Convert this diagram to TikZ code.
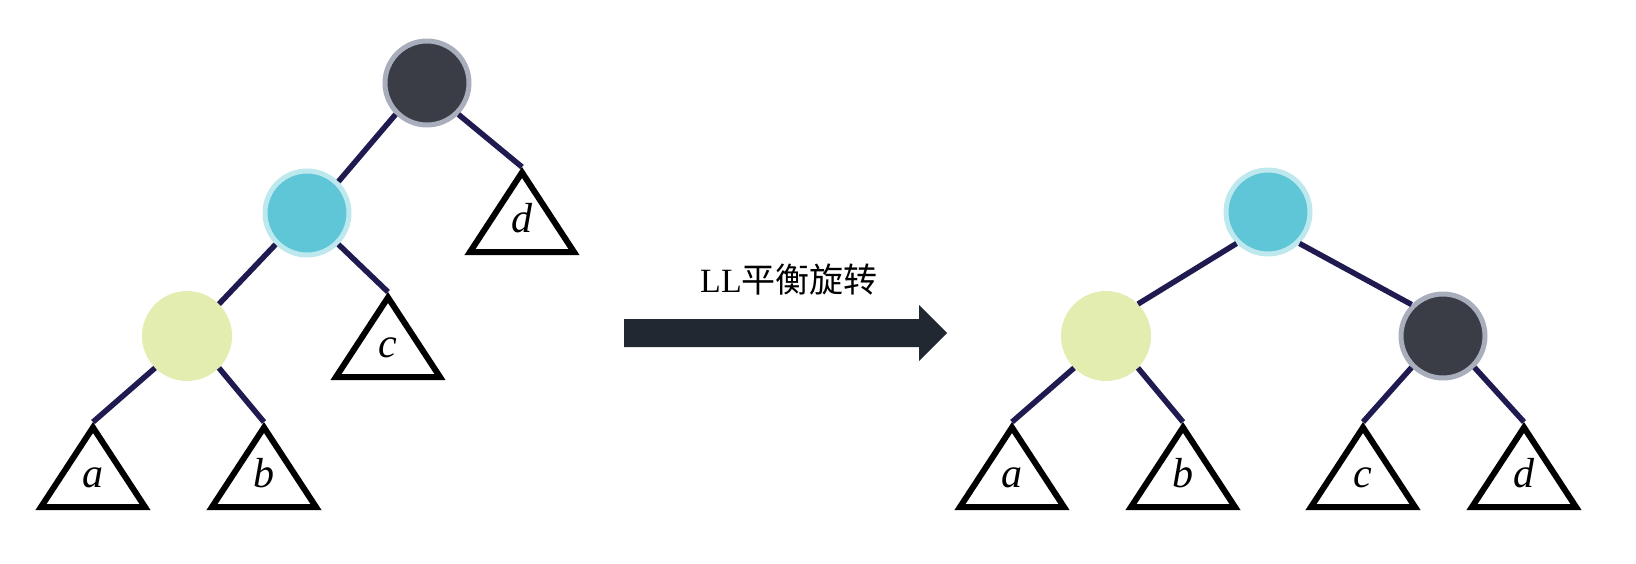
\documentclass[tikz,border=0pt]{standalone}
\usepackage{fontspec}
\newfontfamily\lib{Liberation Serif}
\newfontfamily\cjk{Noto Sans CJK SC}
\definecolor{darkfill}{HTML}{3A3D46}
\definecolor{darkring}{HTML}{A8AEBB}
\definecolor{cyanfill}{HTML}{5EC6D6}
\definecolor{cyanring}{HTML}{BDE8EE}
\definecolor{greenfill}{HTML}{E3EDB0}
\definecolor{edgec}{HTML}{1F1A4F}
\definecolor{arrowc}{HTML}{222831}
\tikzset{
  darkn/.style={circle, fill=darkfill, draw=darkring, line width=5pt, minimum size=84pt, inner sep=0pt},
  cyann/.style={circle, fill=cyanfill, draw=cyanring, line width=5pt, minimum size=84pt, inner sep=0pt},
  greenn/.style={circle, fill=greenfill, minimum size=90pt, inner sep=0pt},
  edge/.style={draw=edgec, line width=5.5pt},
  tri/.style={draw=black, line width=6pt, fill=white, line join=miter},
  lab/.style={anchor=base, inner sep=0pt, font=\fontsize{42}{42}\selectfont\lib\itshape},
  bigarrow/.style={fill=arrowc},
  title/.style={font=\fontsize{34}{34}\selectfont, inner sep=0pt}
}
\newcommand\subtree[4]{%
  \draw[tri] (#2,#3+5.5) -- (#2-52,#3+85) -- (#2+52,#3+85) -- cycle;
  \coordinate (#1) at (#2,#3);
  \node[lab] (#1l) at (#2,#3+65) {#4};
}
\begin{document}
\begin{tikzpicture}[x=1pt,y=-1pt]
\useasboundingbox (0,0) rectangle (1636,563);
% left tree
\node[darkn] (Ld) at (427,83) {};
\node[cyann] (Lc) at (307,213) {};
\node[greenn] (Lg) at (187,336) {};
\subtree{La}{93}{422}{a}
\subtree{Lb}{264}{422}{b}
\subtree{Lcc}{388}{292}{c}
\subtree{Ldd}{522}{167}{d}
\draw[edge] (Ld.south west) -- (Lc.north east);
\draw[edge] (Ld.south east) -- (Ldd);
\draw[edge] (Lc.south west) -- (Lg.north east);
\draw[edge] (Lc.south east) -- (Lcc);
\draw[edge] (Lg.south west) -- (La);
\draw[edge] (Lg.south east) -- (Lb);
% arrow
\fill[bigarrow] (624,319) -- (919,319) -- (919,305) -- (947,333) -- (919,361) -- (919,347) -- (624,347) -- cycle;
\node[title] (ttl) at (789,280) {\lib LL\cjk 平衡旋转};
% right tree
\node[cyann] (Rc) at (1268,212) {};
\node[greenn] (Rg) at (1106,336) {};
\node[darkn] (Rd) at (1443,336) {};
\subtree{Ra}{1012}{422}{a}
\subtree{Rb}{1183}{422}{b}
\subtree{Rcc}{1363}{422}{c}
\subtree{Rdd}{1524}{422}{d}
\draw[edge] (Rc.south west) -- (Rg.north east);
\draw[edge] (Rc.south east) -- (Rd.north west);
\draw[edge] (Rg.south west) -- (Ra);
\draw[edge] (Rg.south east) -- (Rb);
\draw[edge] (Rd.south west) -- (Rcc);
\draw[edge] (Rd.south east) -- (Rdd);
\end{tikzpicture}
\end{document}
